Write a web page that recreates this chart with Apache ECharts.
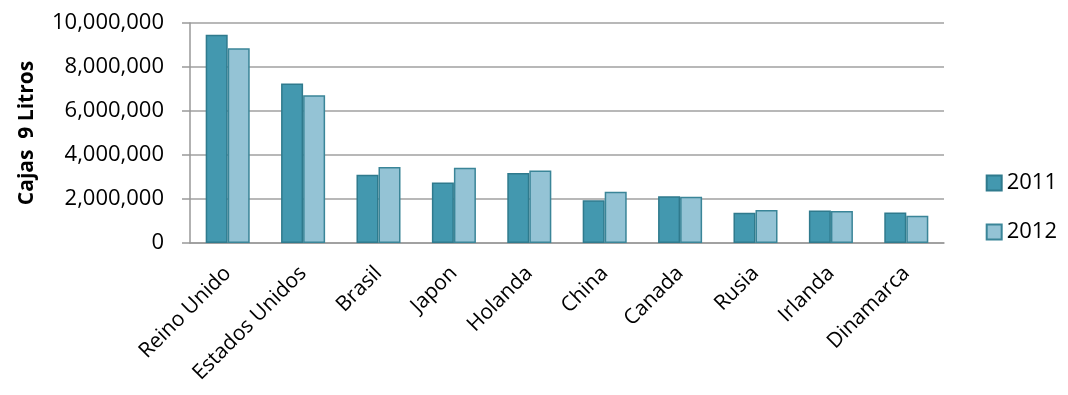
<!DOCTYPE html>
<html>
<head>
<meta charset="utf-8">
<script src="https://cdn.jsdelivr.net/npm/echarts@6/dist/echarts.min.js"></script>
<style>
  html, body { margin: 0; padding: 0; background: #fff; }
  #chart { width: 1068px; height: 395px; }
</style>
</head>
<body>
<div id="chart"></div>
<script>
// 数据
const categories = ["Reino Unido", "Estados Unidos", "Brasil", "Japon", "Holanda", "China", "Canada", "Rusia", "Irlanda", "Dinamarca"];
const values2011 = [9470000, 7250000, 3100000, 2750000, 3180000, 1940000, 2120000, 1380000, 1480000, 1390000];
const values2012 = [8850000, 6720000, 3450000, 3420000, 3290000, 2330000, 2100000, 1500000, 1450000, 1240000];
const seriesNames = ["2011", "2012"];

const font = "'Open Sans', 'Noto Sans', sans-serif";
const chart = echarts.init(document.getElementById("chart"));

const option = {
  animation: false,
  textStyle: { fontFamily: font },
  grid: { left: 190, right: 124, top: 23, bottom: 152 },
  legend: {
    orient: "vertical",
    right: 6,
    top: 167,
    icon: "rect",
    itemWidth: 15,
    itemHeight: 15,
    itemGap: 27,
    textStyle: { fontSize: 22, color: "#000", fontFamily: font },
    data: seriesNames
  },
  xAxis: {
    type: "category",
    data: categories,
    axisLine: { lineStyle: { color: "#999", width: 1.5 } },
    axisTick: { show: false },
    axisLabel: { rotate: 45, fontSize: 21, color: "#000", margin: 27, interval: 0, fontFamily: font }
  },
  yAxis: {
    type: "value",
    min: 0,
    max: 10000000,
    interval: 2000000,
    name: "Cajas  9 Litros",
    nameLocation: "middle",
    nameGap: 152,
    nameRotate: 90,
    nameTextStyle: { fontSize: 21, fontWeight: "bold", color: "#000", fontFamily: font },
    axisLine: { show: true, lineStyle: { color: "#999", width: 1.5 } },
    axisTick: { show: true, length: 8, lineStyle: { color: "#999", width: 1.5 } },
    splitLine: { lineStyle: { color: "#a0a0a0", width: 1.5 } },
    axisLabel: {
      fontSize: 22,
      color: "#000",
      margin: 26,
      fontFamily: font,
      formatter: (v) => v.toLocaleString("en-US")
    }
  },
  series: [
    {
      name: seriesNames[0],
      type: "bar",
      data: values2011,
      barGap: "0%",
      barCategoryGap: "41.6%",
      itemStyle: { color: "#4398af", borderColor: "#2f7a8d", borderWidth: 1.5 }
    },
    {
      name: seriesNames[1],
      type: "bar",
      data: values2012,
      itemStyle: { color: "#94c3d5", borderColor: "#3a8598", borderWidth: 1.5 }
    }
  ]
};

chart.setOption(option);
</script>
</body>
</html>
